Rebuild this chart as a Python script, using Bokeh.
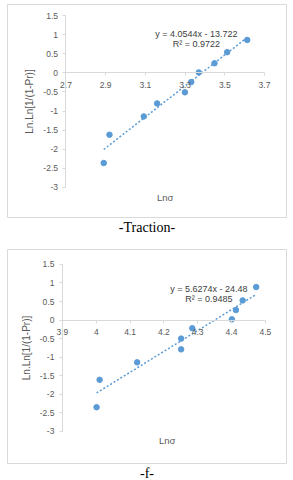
from bokeh.plotting import figure
from bokeh.models import FixedTicker, CustomJSTickFormatter, Label, Title, Range1d
from bokeh.layouts import column
from bokeh.embed import file_html
from bokeh.resources import INLINE

# ---- data: chart 1 (Traction) ----
traction_ln_sigma = [2.890, 2.919, 3.092, 3.159, 3.299, 3.331, 3.369, 3.448, 3.512, 3.613]
traction_lnln = [-2.36, -1.62, -1.14, -0.80, -0.51, -0.24, 0.01, 0.25, 0.54, 0.86]
traction_slope = 4.0544
traction_intercept = -13.722
traction_r2 = 0.9722
traction_x_ticks = [2.7, 2.9, 3.1, 3.3, 3.5, 3.7]

# ---- data: chart 2 (f) ----
f_ln_sigma = [4.001, 4.010, 4.121, 4.251, 4.251, 4.284, 4.401, 4.413, 4.433, 4.473]
f_lnln = [-2.35, -1.61, -1.14, -0.50, -0.79, -0.22, 0.02, 0.27, 0.53, 0.89]
f_slope = 5.6274
f_intercept = -24.48
f_r2 = 0.9485
f_x_ticks = [3.9, 4.0, 4.1, 4.2, 4.3, 4.4, 4.5]

y_ticks = [-3, -2.5, -2, -1.5, -1, -0.5, 0, 0.5, 1, 1.5]

BLUE = "#5B9BD5"
GRAY_TXT = "#595959"
GRAY_LINE = "#D9D9D9"
SANS = "Liberation Sans"

fmt = CustomJSTickFormatter(code="return String(Math.round(tick*100)/100)")


def make_chart(xs, ys, slope, intercept, r2, x_ticks, xr, yr, borders, frame_h,
               caption, eq_xy, xlabel_xy):
    left, right, top, bottom = borders
    p = figure(width=293, height=top + frame_h + bottom,
               x_range=Range1d(*xr), y_range=Range1d(*yr),
               output_backend="svg", toolbar_location=None,
               min_border_left=left, min_border_right=right, min_border_top=top,
               min_border_bottom=bottom)
    p.outline_line_color = GRAY_LINE
    p.outline_line_width = 1
    p.grid.visible = False

    for ax in (p.xaxis, p.yaxis):
        ax.axis_line_color = GRAY_LINE
        ax.major_tick_line_color = GRAY_LINE
        ax.minor_tick_line_color = None
        ax.major_tick_in = 0
        ax.major_tick_out = 3
        ax.major_label_text_color = GRAY_TXT
        ax.major_label_text_font = SANS
        ax.major_label_text_font_size = "8.5px"
        ax.formatter = fmt

    p.xaxis.fixed_location = 0
    p.xaxis.bounds = (x_ticks[0], x_ticks[-1])
    p.xaxis.ticker = FixedTicker(ticks=x_ticks)
    p.xaxis.major_label_standoff = 6

    p.yaxis.fixed_location = x_ticks[0]
    p.yaxis.bounds = (y_ticks[0], y_ticks[-1])
    p.yaxis.ticker = FixedTicker(ticks=y_ticks)
    p.yaxis.major_label_standoff = 5
    p.yaxis.axis_label = "Ln.Ln[1/(1-Pr)]"
    p.yaxis.axis_label_text_font = SANS
    p.yaxis.axis_label_text_font_size = "10px"
    p.yaxis.axis_label_text_font_style = "normal"
    p.yaxis.axis_label_text_color = GRAY_TXT
    p.yaxis.axis_label_standoff = 5

    lx = [min(xs), max(xs)]
    ly = [slope * v + intercept for v in lx]
    p.line(lx, ly, line_color=BLUE, line_width=1.5, line_dash="2 2")
    p.scatter(xs, ys, size=5.5, fill_color=BLUE, line_color=BLUE)

    eq = f"y = {slope}x - {abs(intercept)}"
    p.add_layout(Label(x=eq_xy[0], y=eq_xy[1], text=eq, text_align="center",
                       text_baseline="middle", text_font=SANS, text_font_size="9px",
                       text_color="#404040"))
    p.add_layout(Label(x=eq_xy[0], y=eq_xy[1], y_offset=-10, text=f"R\u00b2 = {r2}",
                       text_align="center", text_baseline="middle", text_font=SANS,
                       text_font_size="9px", text_color="#404040"))
    p.add_layout(Label(x=xlabel_xy[0], y=xlabel_xy[1], text="Ln\u03c3", text_align="center",
                       text_baseline="middle", text_font=SANS, text_font_size="9.5px",
                       text_color=GRAY_TXT))

    p.add_layout(Title(text=caption, align="center", text_font="Liberation Serif",
                       text_font_size="14px", text_font_style="normal",
                       text_color="black", offset=0, standoff=0), "below")
    return p


p1 = make_chart(traction_ln_sigma, traction_lnln, traction_slope, traction_intercept,
                traction_r2, traction_x_ticks, (2.4053, 3.8108), (-3.785, 1.7878),
                (7, 7, 4, 23), 213, "-Traction-", (3.357, 1.02), (3.2, -3.27))
p2 = make_chart(f_ln_sigma, f_lnln, f_slope, f_intercept, f_r2, f_x_ticks,
                (3.7376, 4.5626), (-3.8667, 1.9025), (3, 4, 9, 16), 215, "-f-",
                (4.333, 0.83), (4.21, -3.25))

layout = column(p1, p2, spacing=0)
open("out.html", "w").write(file_html(layout, INLINE))
